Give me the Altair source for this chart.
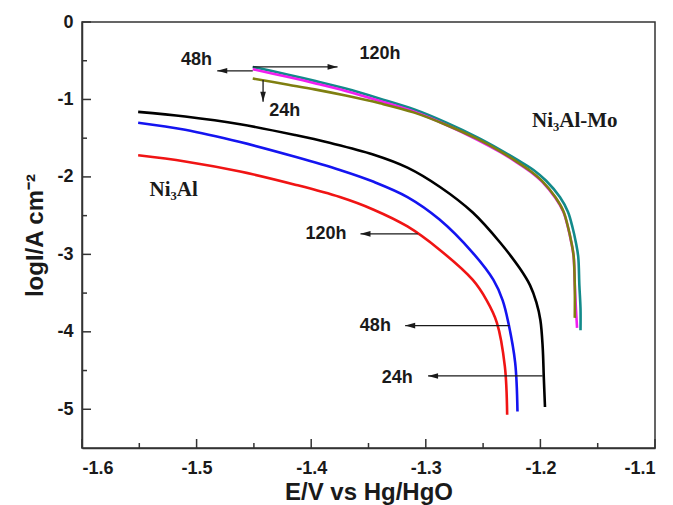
import altair as alt
import pandas as pd

# ---- data ----
black_E = [-1.551, -1.51, -1.462, -1.414, -1.384, -1.346, -1.316, -1.2876, -1.259, -1.235, -1.218, -1.209, -1.2035, -1.200, -1.198, -1.197, -1.196]
black_L = [-1.16, -1.22, -1.32, -1.46, -1.56, -1.71, -1.88, -2.13, -2.46, -2.85, -3.18, -3.40, -3.62, -3.85, -4.20, -4.60, -4.97]

blue_E = [-1.551, -1.51, -1.462, -1.414, -1.375, -1.346, -1.316, -1.288, -1.259, -1.241, -1.233, -1.228, -1.222, -1.220]
blue_L = [-1.30, -1.39, -1.55, -1.74, -1.91, -2.06, -2.26, -2.55, -2.98, -3.33, -3.59, -3.88, -4.40, -5.03]

red_E = [-1.551, -1.51, -1.462, -1.414, -1.375, -1.346, -1.316, -1.288, -1.259, -1.247, -1.238, -1.231, -1.229]
red_L = [-1.72, -1.80, -1.93, -2.10, -2.26, -2.42, -2.64, -2.94, -3.33, -3.59, -3.88, -4.45, -5.07]

teal_E = [-1.451, -1.42, -1.397, -1.37, -1.340, -1.31, -1.282, -1.255, -1.235, -1.220, -1.206, -1.195, -1.183, -1.176, -1.172, -1.169, -1.167, -1.166, -1.165, -1.165]
teal_L = [-0.58, -0.68, -0.76, -0.86, -0.99, -1.13, -1.30, -1.49, -1.65, -1.78, -1.91, -2.05, -2.26, -2.45, -2.65, -2.85, -3.03, -3.40, -3.70, -3.98]

mag_E = [-1.451, -1.42, -1.397, -1.37, -1.340, -1.31, -1.282, -1.255, -1.235, -1.222, -1.209, -1.198, -1.187, -1.180, -1.176, -1.173, -1.171, -1.170, -1.169, -1.168]
mag_L = [-0.61, -0.71, -0.79, -0.89, -1.02, -1.16, -1.33, -1.52, -1.68, -1.80, -1.93, -2.07, -2.27, -2.45, -2.65, -2.85, -3.03, -3.40, -3.70, -3.95]

olive_E = [-1.451, -1.42, -1.397, -1.37, -1.340, -1.31, -1.282, -1.255, -1.235, -1.222, -1.209, -1.198, -1.187, -1.180, -1.176, -1.173, -1.171, -1.170, -1.170]
olive_L = [-0.73, -0.81, -0.87, -0.95, -1.05, -1.17, -1.33, -1.51, -1.67, -1.79, -1.92, -2.06, -2.26, -2.44, -2.64, -2.84, -3.02, -3.40, -3.82]

# annotation arrows: start (on curve) -> tip
arrow_x1 = [-1.451, -1.451, -1.442, -1.307, -1.227, -1.198]
arrow_x2 = [-1.482, -1.377, -1.442, -1.357, -1.318, -1.298]
arrow_y1 = [-0.63, -0.58, -0.75, -2.735, -3.92, -4.57]
arrow_y2 = [-0.63, -0.58, -1.03, -2.735, -3.92, -4.57]
arrow_dir = ["left", "right", "down", "left", "left", "left"]

label_text = ["48h", "120h", "24h", "120h", "48h", "24h"]
label_x = [-1.500, -1.340, -1.423, -1.387, -1.344, -1.325]
label_y = [-0.49, -0.41, -1.15, -2.74, -3.93, -4.59]

alloy_text = ["Ni\u2083Al", "Ni\u2083Al-Mo"]
alloy_x = [-1.520, -1.170]
alloy_y = [-2.17, -1.28]

x_major = [-1.6, -1.5, -1.4, -1.3, -1.2, -1.1]
x_minor = [-1.55, -1.45, -1.35, -1.25, -1.15]
y_major = [0, -1, -2, -3, -4, -5]
y_minor = [-0.5, -1.5, -2.5, -3.5, -4.5]

W, H = 573, 426

xs = alt.Scale(domain=[-1.6, -1.1], nice=False, zero=False)
ys = alt.Scale(domain=[-5.5, 0], nice=False, zero=False)

xaxis = alt.Axis(values=x_major, format=".1f", title="E/V vs Hg/HgO", ticks=False,
                 labelExpr="replace(datum.label, '\u2212', '-')",
                 labelPadding=11, titlePadding=3)
yaxis = alt.Axis(values=y_major, format="d", title="logI/A cm\u207b\u00b2", ticks=False,
                 labelExpr="replace(datum.label, '\u2212', '-')",
                 labelPadding=9, titlePadding=9)


def X(field):
    return alt.X(field, scale=xs, axis=xaxis)


def Y(field):
    return alt.Y(field, scale=ys, axis=yaxis)


def curve(E, L, color):
    df = pd.DataFrame({"E": E, "logI": L, "i": list(range(len(E)))})
    return alt.Chart(df).mark_line(color=color, strokeWidth=2.6, interpolate="catmull-rom").encode(
        x=X("E:Q"), y=Y("logI:Q"), order="i:Q")


layers = [
    curve(black_E, black_L, "#000000"),
    curve(blue_E, blue_L, "#1414f0"),
    curve(red_E, red_L, "#f01414"),
    curve(teal_E, teal_L, "#128a8a"),
    curve(mag_E, mag_L, "#f01ef0"),
    curve(olive_E, olive_L, "#7f7f10"),
]

# ticks (inward)
xt_major = alt.Chart(pd.DataFrame({"v": x_major})).mark_rule(color="#333", strokeWidth=1.5).encode(
    x=X("v:Q"), y=alt.value(H), y2=alt.value(H - 9))
xt_minor = alt.Chart(pd.DataFrame({"v": x_minor})).mark_rule(color="#333", strokeWidth=1.5).encode(
    x=X("v:Q"), y=alt.value(H), y2=alt.value(H - 5))
yt_major = alt.Chart(pd.DataFrame({"v": y_major})).mark_rule(color="#333", strokeWidth=1.5).encode(
    y=Y("v:Q"), x=alt.value(0), x2=alt.value(9))
yt_minor = alt.Chart(pd.DataFrame({"v": y_minor})).mark_rule(color="#333", strokeWidth=1.5).encode(
    y=Y("v:Q"), x=alt.value(0), x2=alt.value(5))

arrows = pd.DataFrame({"x1": arrow_x1, "x2": arrow_x2, "y1": arrow_y1, "y2": arrow_y2, "dir": arrow_dir})
arrow_lines = alt.Chart(arrows).mark_rule(color="#1a1a1a", strokeWidth=1.3).encode(
    x=X("x1:Q"), x2="x2:Q", y=Y("y1:Q"), y2="y2:Q")
arrow_heads = alt.Chart(arrows).mark_point(filled=True, opacity=1, color="#1a1a1a", size=400, strokeWidth=0).encode(
    x=X("x2:Q"), y=Y("y2:Q"),
    shape=alt.Shape("dir:N", legend=None, scale=alt.Scale(
        domain=["left", "right", "down"],
        range=["M0,0L1,-0.28L1,0.28Z", "M0,0L-1,-0.28L-1,0.28Z", "M0,0L-0.28,-1L0.28,-1Z"])))

labels = pd.DataFrame({"x": label_x, "y": label_y, "t": label_text})
label_marks = alt.Chart(labels).mark_text(font="Liberation Sans", fontWeight="bold", fontSize=18,
                                          color="#1a1a1a", align="center", baseline="middle").encode(
    x=X("x:Q"), y=Y("y:Q"), text="t:N")

alloys = pd.DataFrame({"x": alloy_x, "y": alloy_y, "t": alloy_text})
alloy_marks = alt.Chart(alloys).mark_text(font="Liberation Serif", fontWeight="bold", fontSize=21,
                                          color="#1a1a1a", align="center", baseline="middle").encode(
    x=X("x:Q"), y=Y("y:Q"), text="t:N")

chart = alt.layer(
    *layers, xt_major, xt_minor, yt_major, yt_minor, arrow_lines, arrow_heads, label_marks, alloy_marks
).properties(
    width=W, height=H,
    autosize=alt.AutoSizeParams(type="none"),
    padding={"left": 82, "top": 22, "right": 18, "bottom": 57},
    background="white",
).configure_view(
    stroke="#333", strokeWidth=1.5
).configure_axis(
    grid=False, domainColor="#333", domainWidth=1.5,
    labelFont="Liberation Sans", labelFontWeight="bold", labelFontSize=18, labelColor="#1a1a1a",
    titleFont="Liberation Sans", titleFontWeight="bold", titleFontSize=24, titleColor="#1a1a1a",
)

chart.save("out.html", embed_options={"renderer": "svg", "actions": False})
